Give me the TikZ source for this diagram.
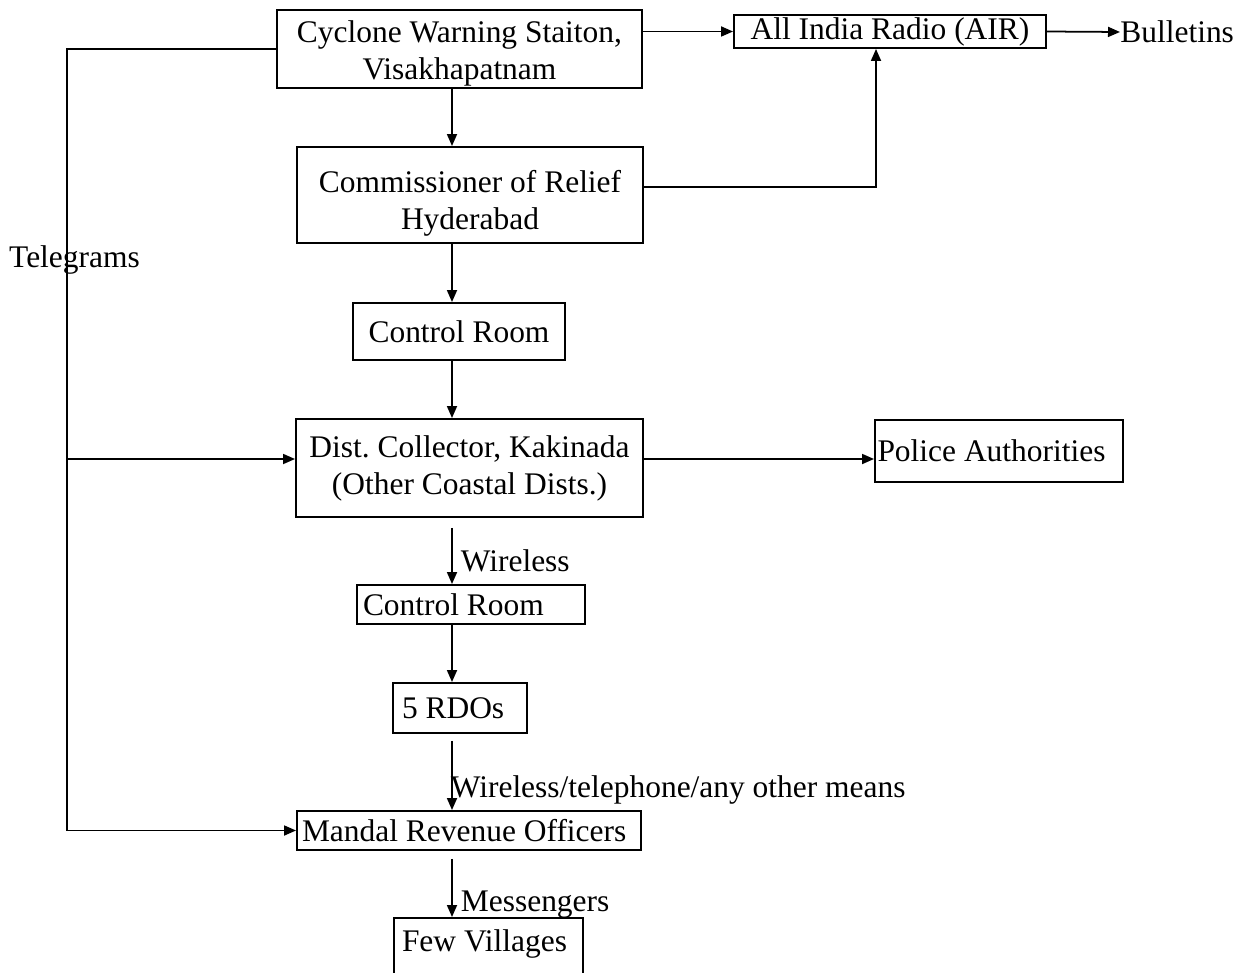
\documentclass[tikz,border=0pt]{standalone}
\usepackage{fontspec}
\setmainfont{Liberation Serif}
\usetikzlibrary{arrows.meta}

\begin{document}
\begin{tikzpicture}[font=\fontsize{17.9}{21}\selectfont\frenchspacing,
    box/.style={draw, line width=1.1pt, inner xsep=1pt, inner ysep=0.5pt, align=center},
    lbox/.style={box, align=flush left},
    flow/.style={-{Triangle[length=0.24cm,width=0.2cm]}, line width=1pt},
    lbl/.style={inner sep=0, anchor=base west}]

\useasboundingbox (0,0) rectangle (24.88,-19.46);
\clip (0,0) rectangle (24.88,-19.46);

\coordinate (spine) at (9.04,0);
\coordinate (tg) at (1.34,0);

\node[box, minimum width=7.3cm, minimum height=1.56cm] (cws) at (9.19,-0.98) {\rule{0pt}{17.5pt}Cyclone Warning Staiton,\\ Visakhapatnam};
\node[box, minimum width=6.24cm, minimum height=0.66cm] (air) at (17.8,-0.63) {All India Radio (AIR)};
\node[inner sep=0, anchor=west] (bul) at (22.4,-0.64) {Bulletins};
\node[box, minimum width=6.92cm, minimum height=1.92cm] (comm) at (9.4,-3.9) {\rule{0pt}{22.4pt}Commissioner of Relief\\ Hyderabad};
\node[box, minimum width=4.24cm, minimum height=1.14cm] (cr1) at (9.18,-6.63) {Control Room};
\node[box, minimum width=6.94cm, minimum height=1.96cm] (dist) at (9.39,-9.36) {Dist. Collector, Kakinada\\ (Other Coastal Dists.)};
\node[lbox, text width=4.86cm, inner xsep=0.05cm, minimum height=1.24cm] (pol) at (19.98,-9.02) {Police Authorities};
\node[lbox, text width=4.32cm, inner xsep=0.12cm, minimum height=0.78cm] (cr2) at (9.42,-12.09) {Control Room};
\node[lbox, text width=2.32cm, inner xsep=0.18cm, minimum height=1.0cm] (rdo) at (9.2,-14.16) {5 RDOs};
\node[lbox, text width=6.68cm, inner xsep=0.1cm, minimum height=0.78cm] (mro) at (9.38,-16.61) {Mandal Revenue Officers};
\node[lbox, text width=3.46cm, inner xsep=0.16cm, inner ysep=1pt, text height=0.64cm, text depth=0.9cm, anchor=north] (vil) at (9.77,-18.34) {Few Villages};
\node[inner sep=0] (tlab) at (1.49,-5.2) {Telegrams};

\coordinate (dl) at ([yshift=0.18cm]dist.west);
\coordinate (dr) at ([yshift=0.18cm]dist.east);

% top row
\draw[flow] (cws.east |- air.west) -- (air.west);
\draw[flow] (air.east) -- (bul.west);
\draw[flow] ([yshift=0.16cm]comm.east) -| ([xshift=-0.28cm]air.south);

% main chain
\draw[flow] (cws.south -| spine) -- (comm.north -| spine);
\draw[flow] (comm.south -| spine) -- (cr1.north -| spine);
\draw[flow] (cr1.south -| spine) -- (dist.north -| spine);
\draw[flow] (dr) -- (dr -| pol.west);
\draw[flow, shorten <=0.2cm] (dist.south -| spine) -- (cr2.north -| spine) node[lbl, pos=0.81, xshift=0.16cm] {Wireless};
\draw[flow] (cr2.south -| spine) -- (rdo.north -| spine);
\draw[flow, shorten <=0.14cm] (rdo.south -| spine) -- (mro.north -| spine) node[lbl, pos=0.83, xshift=-0.04cm] {Wireless/telephone/any other means};
\draw[flow, shorten <=0.16cm] (mro.south -| spine) -- (vil.north -| spine) node[lbl, pos=0.91, xshift=0.16cm] {Messengers};

% telegrams
\draw[flow] (cws.west) -| (tg |- mro.west) -- (mro.west);
\draw[flow] (tg |- dl) -- (dl);

\end{tikzpicture}
\end{document}
